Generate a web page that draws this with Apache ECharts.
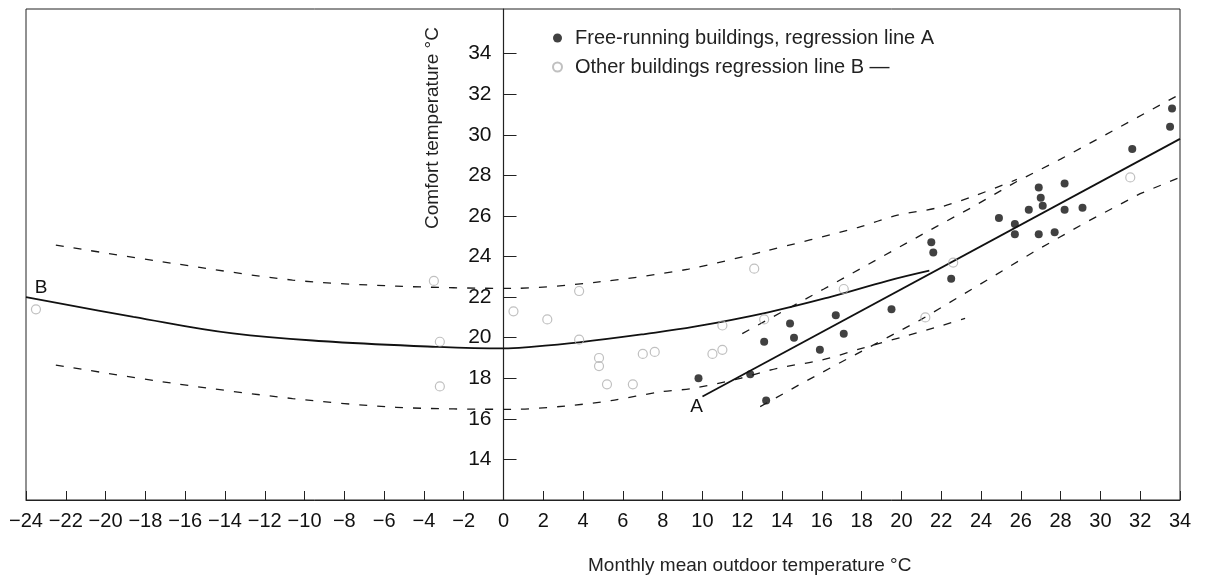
<!DOCTYPE html>
<html>
<head>
<meta charset="utf-8">
<script src="https://cdn.jsdelivr.net/npm/echarts@6/dist/echarts.min.js"></script>
<style>
html,body{margin:0;padding:0;background:#fff;}
#chart{width:1206px;height:585px;}
</style>
</head>
<body>
<div id="chart"></div>
<script>
// ---- data ----
const xTicks = [-24,-22,-20,-18,-16,-14,-12,-10,-8,-6,-4,-2,0,2,4,6,8,10,12,14,16,18,20,22,24,26,28,30,32,34];
const yTicks = [14,16,18,20,22,24,26,28,30,32,34];

// free-running buildings (filled dots)
const freeRunning = [
  [9.8,18.0],[12.4,18.2],[13.1,19.8],[13.2,16.9],[14.4,20.7],[14.6,20.0],[15.9,19.4],
  [16.7,21.1],[17.1,20.2],[19.5,21.4],[21.5,24.7],[21.6,24.2],[22.5,22.9],[24.9,25.9],
  [25.7,25.6],[25.7,25.1],[26.4,26.3],[26.9,27.4],[27.0,26.9],[27.1,26.5],[26.9,25.1],
  [27.7,25.2],[28.2,27.6],[28.2,26.3],[29.1,26.4],[31.6,29.3],[33.5,30.4],[33.6,31.3]
];

// other buildings (open circles)
const otherBuildings = [
  [-23.5,21.4],[-3.5,22.8],[-3.2,19.8],[-3.2,17.6],[0.5,21.3],[2.2,20.9],[3.8,22.3],
  [3.8,19.9],[4.8,19.0],[4.8,18.6],[5.2,17.7],[6.5,17.7],[7.0,19.2],[7.6,19.3],
  [10.5,19.2],[11.0,19.4],[11.0,20.6],[12.6,23.4],[13.1,20.9],[17.1,22.4],
  [21.2,21.0],[22.6,23.7],[31.5,27.9]
];

// regression line A (free-running) and its band
const lineA      = [[10.0,17.1],[34,29.8]];
const lineAUpper = [[12.0,20.2],[16.1,22.4],[21.8,25.5],[23.5,26.4],[25.8,27.7],[28.0,28.8],[31.0,30.4],[34,32.0]];
const lineALower = [[12.9,16.6],[14.9,17.7],[16.6,18.6],[21.0,20.9],[23.9,22.6],[26.6,24.2],[29.3,25.7],[32.0,27.1],[34,27.9]];

// regression line B (other buildings) and its band
const lineB = [[-24,22.0],[-18.6,21.03],[-13.6,20.21],[-8.6,19.8],[-3.4,19.55],[0,19.47],[1.4,19.55],
  [3.8,19.77],[7.1,20.18],[9.6,20.54],[13.3,21.25],[16.4,22.0],[19.3,22.8],[21.4,23.3]];
const lineBUpper = [[-22.5,24.56],[-16.6,23.66],[-10.6,22.84],[-5.4,22.54],[0.4,22.43],[4.8,22.75],
  [9.3,23.38],[13.0,24.23],[17.8,25.43],[19.8,26.04],[21.8,26.4],[23.7,27.0],[25.8,27.8]];
const lineBLower = [[-22.5,18.65],[-16.6,17.75],[-10.6,17.0],[-5.4,16.57],[0.4,16.47],[3.1,16.63],
  [5.4,16.9],[7.9,17.33],[9.5,17.5],[11.9,18.0],[13.8,18.5],[16.0,18.9],[18.1,19.5],[20.1,20.05],
  [22.1,20.62],[23.2,20.95]];

const labelA = 'A', labelB = 'B';
const nameFree = 'Free-running buildings, regression line A';
const nameOther = 'Other buildings regression line B —';
const xTitle = 'Monthly mean outdoor temperature °C';
const yTitle = 'Comfort temperature °C';

// ---- chart ----
const FONT = 'Liberation Sans, Arial, sans-serif';
const chart = echarts.init(document.getElementById('chart'), null, {renderer:'canvas'});
const dashed = {color:'#1a1a1a', width:1.3, type:[8,10]};
const solid = {color:'#111', width:1.8};

function lineSeries(data, style, smooth, extra){
  return Object.assign({
    type:'line', data:data, showSymbol:false, symbol:'none', smooth:smooth,
    lineStyle:style, silent:true, z:3, animation:false
  }, extra||{});
}

chart.setOption({
  animation:false,
  backgroundColor:'#fff',
  textStyle:{fontFamily:FONT},
  grid:{left:26,right:26,top:9,bottom:85,containLabel:false,outerBoundsMode:'none',
        show:true,borderColor:'#222',borderWidth:1,backgroundColor:'transparent'},
  legend:{
    data:[nameFree,nameOther],
    orient:'vertical', left:547, top:23, itemGap:9, itemWidth:9, itemHeight:9,
    textStyle:{fontSize:20, color:'#222', fontFamily:FONT, padding:[0,0,0,8], lineHeight:20},
    selectedMode:false
  },
  xAxis:{
    type:'value', min:-24, max:34, interval:2,
    axisLine:{onZero:false, lineStyle:{color:'#222', width:1}},
    axisTick:{inside:true, length:9, lineStyle:{color:'#222'}, customValues:xTicks},
    axisLabel:{fontSize:20, color:'#111', margin:11, customValues:xTicks,
      formatter:v => v < 0 ? '\u2212' + (-v) : String(v)},
    splitLine:{show:false}
  },
  yAxis:{
    type:'value', min:12, max:36.2, interval:2, position:'left', offset:0,
    axisLine:{show:true, onZero:false, lineStyle:{color:'#222', width:1.2}},
    axisTick:{inside:true, length:13, lineStyle:{color:'#222'}, customValues:yTicks},
    axisLabel:{fontSize:21, color:'#111', margin:12, customValues:yTicks},
    splitLine:{show:false}
  },
  graphic:[
    {type:'text', left:588, top:556, style:{text:xTitle, fontSize:19, fill:'#222', font:'19px ' + FONT}},
    {type:'text', x:433, y:128, rotation:Math.PI/2,
     style:{text:yTitle, fontSize:19, fill:'#222', font:'19px ' + FONT, align:'center', verticalAlign:'middle'}}
  ],
  series:[
    lineSeries(lineBUpper, dashed, 0.3),
    lineSeries(lineBLower, dashed, 0.3),
    lineSeries(lineAUpper, dashed, false),
    lineSeries(lineALower, dashed, false),
    lineSeries(lineB, solid, 0.4, {
      markPoint:{symbol:'circle', symbolSize:1, itemStyle:{color:'rgba(0,0,0,0)'}, silent:true, animation:false,
        data:[{coord:lineB[0], label:{show:true, formatter:labelB, position:'inside', offset:[15,-9], fontSize:19, color:'#111'}}]}
    }),
    lineSeries(lineA, solid, false, {
      markPoint:{symbol:'circle', symbolSize:1, itemStyle:{color:'rgba(0,0,0,0)'}, silent:true, animation:false,
        data:[{coord:lineA[0], label:{show:true, formatter:labelA, position:'inside', offset:[-6,10], fontSize:19, color:'#111'}}]}
    }),
    {type:'scatter', name:nameOther, data:otherBuildings, symbol:'circle', symbolSize:9, z:4,
     itemStyle:{color:'rgba(255,255,255,0)', borderColor:'#b0b0b0', borderWidth:1.2}},
    {type:'scatter', name:nameFree, data:freeRunning, symbol:'circle', symbolSize:8, z:5,
     itemStyle:{color:'#111'}}
  ]
});

// place the y axis (line, ticks, labels) at x = 0 using the x axis scale
const xMinPx = chart.convertToPixel({xAxisIndex:0}, xTicks[0]);
const xZeroPx = chart.convertToPixel({xAxisIndex:0}, 0);
chart.setOption({yAxis:{offset:-(xZeroPx - xMinPx)}});
</script>
</body>
</html>
